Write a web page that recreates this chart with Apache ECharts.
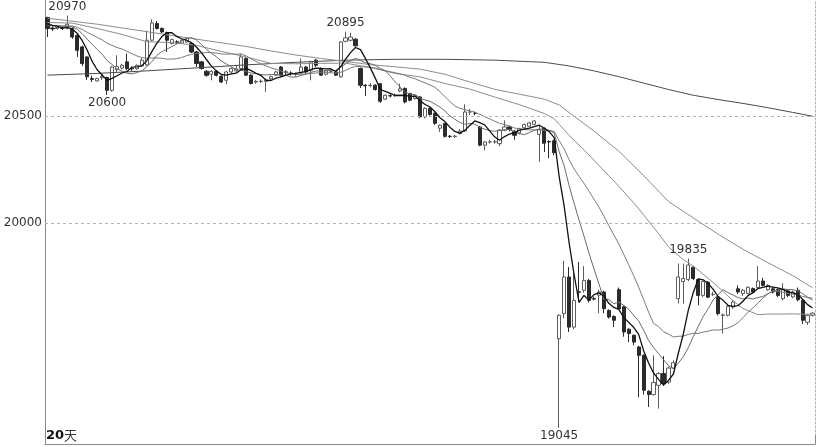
<!DOCTYPE html>
<html><head><meta charset="utf-8">
<script src="https://cdn.jsdelivr.net/npm/echarts/dist/echarts.min.js"></script>
<style>html,body{margin:0;padding:0;background:#fff}#c{width:819px;height:447px}</style>
</head><body><div id="c"></div>
<script>
const opens=[
20961,20912,20910,20913,20912,20910,20878,20824,20777,20676,
20665,20680,20681,20621,20718,20725,20754,20723,20722,20735,
20740,20855,20933,20910,20891,20840,20848,20842,20847,20840,
20800,20754,20710,20696,20710,20687,20668,20707,20712,20723,
20770,20692,20660,20662,20663,20675,20692,20730,20707,20702,
20695,20702,20730,20715,20762,20723,20696,20710,20707,20684,
20850,20855,20860,20723,20645,20643,20645,20652,20580,20596,
20598,20618,20630,20606,20583,20590,20497,20537,20514,20444,
20466,20407,20405,20419,20431,20520,20514,20450,20365,20380,
20380,20372,20435,20450,20430,20422,20446,20453,20462,20415,
20444,20382,20385,19461,19578,19749,19515,19680,19687,19733,
19648,19664,19679,19593,19565,19690,19610,19505,19477,19422,
19383,19215,19200,19243,19298,19258,19324,19648,19728,19737,
19795,19737,19663,19725,19667,19655,19570,19570,19609,19694,
19672,19673,19695,19700,19730,19690,19694,19690,19648,19684,
19656,19687,19640,19538,19570];
const closes=[
20910,20908,20915,20910,20930,20870,20808,20746,20684,20672,
20676,20686,20621,20730,20733,20738,20723,20721,20738,20762,
20855,20936,20910,20894,20855,20858,20846,20855,20863,20800,
20746,20723,20691,20710,20691,20660,20707,20723,20722,20777,
20692,20653,20663,20664,20670,20685,20707,20692,20705,20700,
20697,20730,20707,20754,20738,20692,20712,20712,20692,20847,
20866,20870,20829,20645,20642,20645,20625,20570,20598,20595,
20598,20628,20567,20575,20598,20497,20537,20508,20467,20458,
20406,20405,20407,20431,20520,20520,20514,20365,20380,20380,
20381,20435,20450,20438,20411,20442,20461,20469,20478,20438,
20374,20380,20330,19570,19749,19515,19640,19678,19733,19640,
19646,19679,19601,19562,19547,19600,19492,19485,19445,19383,
19220,19200,19256,19298,19251,19324,19349,19749,19742,19805,
19742,19663,19728,19655,19668,19578,19572,19612,19632,19679,
19687,19701,19679,19730,19710,19710,19679,19663,19692,19663,
19679,19643,19547,19570,19580];
const lows=[
20870,20898,20905,20903,20905,20862,20777,20735,20670,20660,
20662,20670,20600,20615,20705,20718,20715,20712,20718,20730,
20735,20850,20905,20888,20800,20835,20838,20838,20843,20795,
20730,20718,20685,20668,20686,20655,20650,20700,20708,20718,
20688,20648,20652,20655,20614,20670,20688,20685,20695,20690,
20685,20698,20700,20668,20730,20688,20690,20702,20688,20680,
20845,20850,20825,20632,20595,20635,20620,20562,20575,20588,
20590,20612,20560,20570,20578,20492,20490,20503,20460,20426,
20400,20398,20398,20415,20428,20505,20505,20360,20341,20372,
20372,20360,20430,20430,20390,20415,20442,20450,20458,20287,
20333,20304,20318,19045,19556,19492,19505,19632,19675,19630,
19640,19580,19580,19555,19515,19598,19470,19445,19430,19188,
19200,19142,19195,19134,19240,19250,19320,19625,19625,19730,
19735,19617,19655,19650,19660,19570,19485,19565,19600,19670,
19660,19668,19672,19695,19705,19685,19672,19655,19640,19655,
19650,19636,19530,19525,19565];
const highs=[
20965,20920,20922,20920,20970,20915,20882,20830,20780,20690,
20680,20695,20685,20735,20785,20745,20793,20732,20742,20772,
20900,20953,20945,20915,20895,20862,20855,20860,20868,20845,
20805,20758,20715,20715,20715,20690,20712,20728,20740,20792,
20775,20696,20670,20672,20675,20690,20712,20735,20715,20710,
20705,20770,20735,20760,20768,20728,20716,20720,20712,20850,
20895,20890,20865,20728,20650,20655,20650,20656,20602,20603,
20606,20652,20635,20610,20602,20594,20542,20542,20518,20462,
20470,20412,20412,20440,20556,20535,20522,20455,20384,20390,
20390,20440,20481,20456,20435,20446,20466,20474,20482,20460,
20448,20388,20390,19575,19825,19796,19766,19819,19800,19740,
19657,19690,19685,19598,19570,19700,19615,19510,19480,19428,
19388,19220,19383,19305,19380,19330,19360,19812,19812,19835,
19800,19742,19732,19730,19680,19660,19578,19618,19640,19710,
19692,19705,19700,19800,19745,19715,19700,19695,19720,19690,
19686,19700,19645,19575,19585];

const ma5=[
20930,20925,20920,20912,20915,20907,20887,20853,20808,20756,
20717,20693,20668,20677,20689,20702,20709,20729,20731,20736,
20760,20802,20840,20871,20890,20891,20873,20862,20855,20844,
20822,20797,20765,20734,20712,20695,20692,20698,20701,20718,
20724,20713,20701,20690,20668,20667,20678,20684,20692,20698,
20700,20705,20708,20718,20725,20724,20721,20722,20709,20731,
20766,20797,20821,20811,20770,20726,20677,20625,20616,20607,
20597,20598,20597,20593,20593,20573,20555,20543,20521,20493,
20475,20449,20429,20421,20434,20457,20478,20470,20460,20432,
20404,20388,20405,20417,20423,20435,20440,20444,20452,20458,
20444,20428,20400,20218,20081,19909,19761,19630,19663,19641,
19667,19675,19660,19626,19607,19598,19560,19537,19514,19481,
19405,19347,19301,19271,19245,19266,19296,19394,19483,19594,
19677,19740,19736,19719,19691,19658,19640,19617,19612,19615,
19636,19662,19676,19695,19701,19706,19702,19698,19691,19681,
19675,19668,19645,19620,19604];
const ma10=[
20925,20924,20922,20920,20920,20918,20906,20886,20860,20836,
20812,20790,20760,20742,20722,20710,20701,20698,20704,20712,
20731,20755,20784,20801,20813,20825,20837,20851,20863,20867,
20856,20835,20813,20794,20778,20758,20744,20731,20717,20715,
20709,20702,20699,20695,20693,20695,20695,20692,20691,20683,
20683,20691,20696,20705,20711,20712,20713,20715,20713,20728,
20745,20759,20771,20760,20750,20746,20737,20723,20713,20688,
20661,20637,20611,20604,20600,20585,20576,20570,20557,20543,
20524,20502,20486,20471,20463,20466,20463,20449,20440,20433,
20430,20433,20437,20438,20427,20419,20414,20424,20434,20440,
20439,20434,20422,20335,20269,20176,20094,20015,19940,19861,
19788,19718,19645,19644,19624,19632,19617,19598,19570,19544,
19501,19453,19419,19392,19363,19335,19321,19347,19377,19419,
19471,19518,19565,19601,19642,19667,19690,19676,19665,19653,
19647,19651,19646,19653,19658,19671,19682,19687,19693,19691,
19690,19685,19671,19655,19642];
const ma20=[
20925,20924,20923,20922,20922,20921,20915,20905,20892,20880,
20868,20857,20841,20831,20821,20814,20803,20792,20782,20774,
20771,20772,20772,20771,20767,20767,20769,20774,20783,20789,
20793,20795,20798,20797,20795,20791,20790,20791,20790,20791,
20782,20768,20756,20744,20735,20726,20719,20711,20704,20699,
20696,20696,20697,20700,20702,20703,20704,20703,20702,20705,
20714,20725,20733,20732,20730,20729,20725,20719,20713,20708,
20703,20698,20691,20682,20675,20665,20656,20646,20635,20615,
20592,20569,20548,20537,20531,20525,20519,20509,20498,20488,
20477,20467,20461,20454,20445,20442,20438,20436,20437,20436,
20434,20433,20429,20386,20348,20297,20254,20219,20187,20150,
20113,20076,20033,19989,19946,19904,19855,19806,19755,19702,
19644,19585,19532,19518,19493,19483,19469,19472,19473,19481,
19486,19485,19492,19496,19502,19501,19505,19511,19521,19536,
19559,19584,19605,19627,19650,19669,19686,19681,19679,19672,
19668,19668,19658,19654,19650];
const ma40=[[0,20938],[5,20935],[10,20910],[15,20882],[20,20848],[25,20844],[30,20831],[35,20803],[40,20777],[45,20747],[50,20745],[55,20747],[60,20748],[65,20728],[70,20700],[75,20684],[80,20653],[85,20627],[90,20590],[95,20554],[100,20513],[102,20489],[103,20462],[105,20411],[108,20343],[110,20295],[113,20222],[115,20173],[118,20096],[120,20039],[123,19952],[125,19890],[128,19830],[130,19800],[133,19743],[135,19703],[138,19638],[140,19602],[143,19573],[145,19576],[148,19576],[150,19577],[152,19575],[154,19576]];
const ma60=[[0,20958],[10,20930],[20,20895],[30,20860],[40,20826],[45,20805],[50,20786],[55,20770],[60,20756],[65,20741],[70,20731],[75,20720],[80,20696],[85,20660],[90,20626],[95,20603],[100,20580],[103,20553],[105,20517],[110,20431],[115,20337],[120,20223],[125,20102],[130,20025],[135,19949],[140,19879],[145,19816],[150,19756],[154,19699]];
const ma250=[[0,20692],[10,20700],[20,20712],[30,20726],[40,20740],[50,20752],[60,20762],[70,20766],[80,20766],[90,20762],[100,20752],[105,20735],[110,20712],[115,20685],[120,20655],[125,20625],[130,20598],[135,20578],[140,20560],[145,20540],[150,20518],[154,20500]];
const refLevels=[20500,20000];
const peakMarks=[{i:4,v:20970,pos:'top'},{i:12,v:20600,pos:'bottom'},{i:60,v:20895,pos:'top'},{i:103,v:19045,pos:'bottom'},{i:129,v:19835,pos:'top'}];
const spanLabel='20天';

const days=closes.map((_,i)=>'D'+(i+1));
const candles=opens.map((o,i)=>[o,closes[i],lows[i],highs[i]]);
const font='DejaVu Sans';
const YMIN=18969, YMAX=21043;

const chart=echarts.init(document.getElementById('c'),null,{renderer:'canvas'});
function maLine(name,data,color,width,z){
  return {name,type:'line',data,symbol:'none',silent:true,z,
    lineStyle:{color,width},itemStyle:{color}};
}
chart.setOption({
  animation:false,
  grid:{left:45,right:4,top:0,bottom:3},
  xAxis:{type:'category',data:days,boundaryGap:true,
    axisLine:{onZero:false,lineStyle:{color:'#8a8a8a',width:1}},
    axisTick:{show:true,inside:true,length:9,interval:(idx)=>idx===147,lineStyle:{color:'#8a8a8a'}},
    axisLabel:{show:false},splitLine:{show:false}},
  yAxis:[
    {type:'value',min:YMIN,max:YMAX,position:'left',
      axisLine:{show:true,lineStyle:{color:'#8a8a8a'}},axisTick:{show:false},axisLabel:{show:false},splitLine:{show:false}},
    {type:'value',min:YMIN,max:YMAX,position:'right',
      axisLine:{show:true,lineStyle:{color:'#b0b0b0',type:[2,2]}},axisTick:{show:false},axisLabel:{show:false},splitLine:{show:false}}
  ],
  series:[
    {type:'candlestick',data:candles,barWidth:3.6,z:2,
      itemStyle:{color:'#ffffff',color0:'#2b2b2b',borderColor:'#5c5c5c',borderColor0:'#2b2b2b',borderWidth:1},
      markLine:{symbol:['none','none'],silent:true,animation:false,
        lineStyle:{color:'#b5b5b5',type:[3,3],width:1},
        label:{position:'start',formatter:p=>String(p.value),color:'#333',fontFamily:font,fontSize:12,distance:3},
        emphasis:{disabled:true},
        data:refLevels.map(v=>({yAxis:v}))},
      markPoint:{symbol:'circle',symbolSize:1,silent:true,animation:false,
        itemStyle:{color:'rgba(0,0,0,0)'},
        label:{show:true,formatter:p=>String(p.value),color:'#333',fontFamily:font,fontSize:12},
        data:peakMarks.map(m=>({coord:[days[m.i],m.v],value:m.v,label:{position:m.pos,distance:2}}))}
    },
    maLine('MA250',ma250,'#4a4a4a',1,3),
    maLine('MA60',ma60,'#8c8c8c',1,3),
    maLine('MA40',ma40,'#8c8c8c',1,3),
    maLine('MA20',ma20,'#7a7a7a',1,3),
    maLine('MA10',ma10,'#6a6a6a',1,4),
    maLine('MA5',ma5,'#111111',1.3,5)
  ],
  graphic:[{type:'text',left:46,top:429,silent:true,
    style:{text:'{a|20}{b|天}',rich:{a:{fontWeight:'bold',fontSize:13,fill:'#111',fontFamily:font},b:{fontSize:13,fill:'#333',fontFamily:'Noto Sans CJK SC'}}}}]
});
</script>
</body></html>
